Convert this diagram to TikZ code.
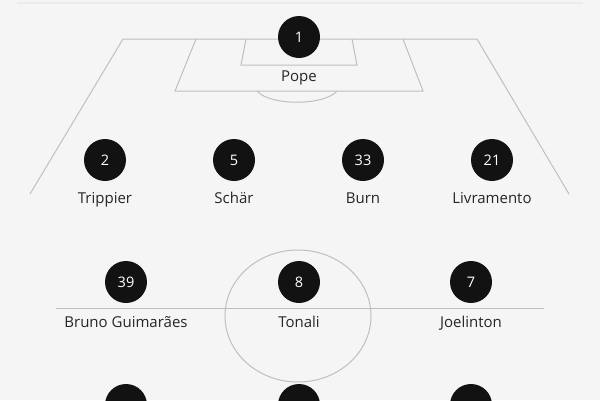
\documentclass[tikz,border=0pt]{standalone}
\usepackage{fontspec}
\setmainfont{Open Sans}
\begin{document}
\begin{tikzpicture}[x=1pt,y=-1pt,
  pitch/.style={draw=black!25, line width=1pt},
  player/.style={circle, fill=black!93, minimum size=42pt, inner sep=0pt, text=white, font=\fontsize{14.5}{16}\selectfont},
  pname/.style={text=black!85, font=\fontsize{15}{17}\selectfont, inner sep=0pt, anchor=base}]
\fill[black!4] (0,0) rectangle (600,400);
\useasboundingbox (0,0) rectangle (600,400);
\draw[black!8, line width=1.2pt] (17,3) -- (583,3);
% pitch lines
\draw[pitch] (30,194) -- (123,39) -- (477,39) -- (569,194);
\draw[pitch] (196,39) -- (175,91) -- (423,91) -- (403,39);
\draw[pitch] (246,39) -- (241,65) -- (357,65) -- (352,39);
\draw[pitch] (257,91) .. controls (270,106) and (324,106) .. (337,91);
\draw[pitch] (56,308) -- (544,308);
\draw[pitch] (298,316) ellipse [x radius=73pt, y radius=66pt];
% players
\node[player] (p1) at (299,37) {1};
\node[pname] (n1) at (299,81) {Pope};
\node[player] (p2) at (105,160) {2};
\node[pname] (n2) at (105,203) {Trippier};
\node[player] (p5) at (234,160) {5};
\node[pname] (n5) at (234,203) {Schär};
\node[player] (p33) at (363,160) {33};
\node[pname] (n33) at (363,203) {Burn};
\node[player] (p21) at (492,160) {21};
\node[pname] (n21) at (492,203) {Livramento};
\node[player] (p39) at (126,282) {39};
\node[pname] (n39) at (126,327) {Bruno Guimarães};
\node[player] (p8) at (299,282) {8};
\node[pname] (n8) at (299,327) {Tonali};
\node[player] (p7) at (471,282) {7};
\node[pname] (n7) at (471,327) {Joelinton};
\node[player] (q1) at (126,405) {};
\node[player] (q2) at (299,405) {};
\node[player] (q3) at (471,405) {};
\end{tikzpicture}
\end{document}
